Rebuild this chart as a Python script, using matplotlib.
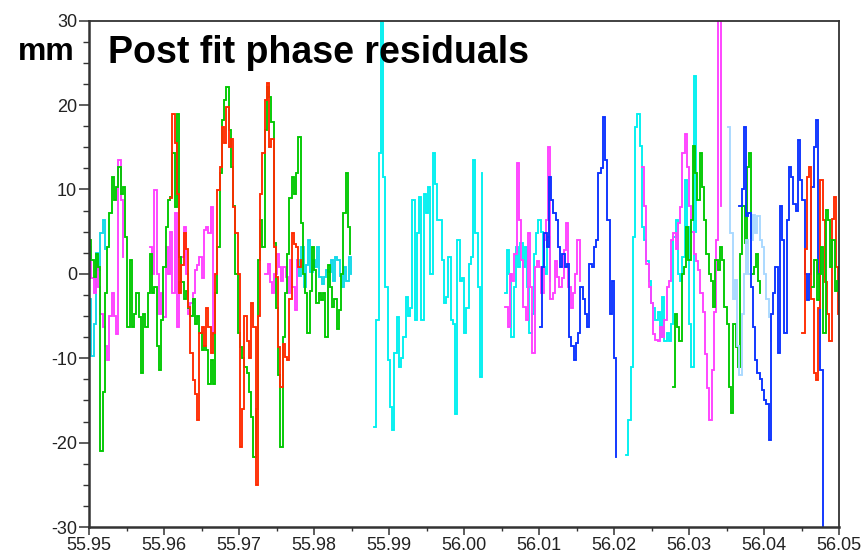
import numpy as np
import matplotlib
matplotlib.use("Agg")
import matplotlib.pyplot as plt
from matplotlib.ticker import MultipleLocator, FormatStrFormatter

plt.rcParams['font.family'] = ['Liberation Sans', 'DejaVu Sans']

# ---------------- data (time axis units, residuals in mm) ----------------
DT = 0.0003  # sampling interval

green1_t0 = 55.9500
green1 = [4, 1.6, -0.4, 2.4, 0.8, -21, -14, -2.3, 3.2, 7.2, 11.5, 8.7, 10.3, 12.7, 9.5, 10.3,
          4.4, -6.3, 1.6, -6.3, -4.7, -2.3, -5.1, -11.8, -4.7, -6.3, -2.3, 2.4, -2.3, -1.5,
          -8.6, -11.4, -5.5, 0.8, 5.6, 8.7, 9.1, 14.3, 7.9, 19, 2, -1, -3, -2, -4, -5, -3, -6,
          -5, -7, -9, -8.6, -9, -13, -10.2, -13, -2.3, 3.2, 12, 18.2, 20.6, 22.2, 17, 12.7, 8,
          0, -7, -8.7, -10, -11, -11.8, -14, -17, -21.7, -16, 1.6, 6.4, 3.2, 17, 22.2, 21, 18,
          3.6, -4, -12, -20.5, -7.5, -2.3, 2.4, 9, 11.5, 9.5, 12, 16.2, 6, 0, -2.3, -7, -2,
          3.2, 0.5, -3.5, -2.3, -3.1, -2.3, -7.5, 1, -1.5, -3.9, -3, -6.5, -4.3, 0, 7.2, 11.9,
          5.5, 2.4]

red1_t0 = 55.9608
red1 = [9, 19, 15.5, 9.5, -2.3, 1, 4.8, 3, -3.9, -9.4, -12.6, -14.2, -17.3, -7, -6.3, -8.6,
        -4, -6.3, -9.4, -7, 0, 9.9, 12.7, 17.4, 15.5, 19.8, 15, 16, 7.9, 4.8, 0, -20.5, -16,
        -5, -8, -10, -3.5, -6.3, -25, -5, 9.5, 14.3, 20.6, 22.6, 15, 16, 3.2, -0.4, -8.7,
        -13.4, -8.3, -9.8, -10.2, -3, 4.8, 3.5, 3.2, 0.8, 1.6]

mag1a_t0 = 55.9500
mag1a = [3.2, -0.5, -2.3, 1, -1.5, -4.7, -6.3, -8.6, -10.2, -5, -2.3, -5, -7.1, 13.5, 8.7, 2]

mag1b_t0 = 55.9581
mag1b = [3.2, 0, 9.9, 0, -4.7, -2.3, -5.1, 3.2, 0, 5, -2.3, 7.2, -6.3, -1, 2, 5.6, 0, -4.7,
         -3.5, -2.3, 0.5, 1, 2, -0.5, 5.2, 5.6, 4.8, 7.9, -7.1]

mag1c_t0 = 55.9735
mag1c = [0, 1.2, -1, -2.3, 0, 2.4, 0.8, -0.8, 0.8, -0.4, -2.3, 1.6, -1.5, -4.3, 1.6]

cyan1a_t0 = 55.9500
cyan1a = [-3, -9.7, -6, 2.5, 0.5, 4.8, 6.4, 3]

cyan1b_t0 = 55.9777
cyan1b = [1.6, -0.3, 3.2, -1.5, 1, 4, 0.2, 1.6, 0.8, 3.2, -0.4, -1.2, -0.4, 0.5, 0.2, 1.6,
          -0.8, 2, 1.6, -0.3, -1.5, 0.8, -0.8, 2, 0]

cyan2_t0 = 55.9880
cyan2 = [-18.1, -5.5, 14.3, 31, 11.5, -1.5, -10.2, -15.8, -18.5, -9.4, -5.1, -11, -10, -7.5,
         -2.7, -5, -4, 8.7, -5.5, 4.8, 9.1, -5.5, 9.5, 7.2, 10.3, 0, 14.3, 10.7, 6.4, 6.4, 1.6,
         -3.5, -2.7, 2, -5.5, -6, -16.6, 4, -0.8, -0.5, -7, -4, 1.2, 2, 13.5, 4.8, -1.5,
         -12.2, 11.9]

cyan3_t0 = 56.0054
cyan3 = [-2.3, 2.8, 0, -7.5, -1.5, 3.2, 0.8, 3.6, 0.8, 3.2, -1.5, -7, -4.7, 2.4, 4.8, 6.4, 5,
         0.8, 0, 4.4, -0.8]

mag2_t0 = 56.0055
mag2 = [-3.9, -6.3, 0, -0.8, 2.4, 13.1, 6.4, 1.6, -3.9, -5.5, 4.8, -1.5, -9.4, 0.8, 1.5, 0.8,
        -2.3, 4, 6.4, 15, -3, -2.3, 1.5, -0.4, -1.5, -0.5, 2.8, 6, -1.5, -4, -2.3, 0, 4, -0.8]

blue1_t0 = 56.0101
blue1 = [-6.3, 0.8, 4.8, 3.2, 11.5, 8.7, 7.2, 6.4, 3.2, 0.8, 2.4, 0.8, 1.2, -7.5, -8.6, -10.2,
         -8.2, -7, -1.5, -3, -4.7, -6.3, 1.2, 0.8, 3.2, 4, 11.9, 12.5, 18.6, 13.5, 6.4, -4.7,
         -0.8, -10, -21.7]

cyan4_t0 = 56.0216
cyan4 = [-21.5, -17.3, -11, 4.4, 17.4, 19, 15.1, 5.5, 4, 1.5, -0.8, -3.5, -4, -5.5, -4.5, -7.5,
         -2.7, -7.9, -7, -8, -6, 4.4, 6.4, 0, -0.8, 2, 11.1, 5.5, -6, -11, 23.4, 5]

mag3_t0 = 56.0237
mag3 = [12.7, 8, 1.2, -1.5, -3.5, -7.1, -7.8, -8, -6.3, -7.5, -5.5, -1.5, -0.8, 4, 4.8, 3, 6,
        7.9, 14.3, 16.6, 12.7, 8, 5, 2.4, 1.5, 0.5, -2.3, -4.5, -9.5, -13.5, -17.3, -11.4,
        -4.5, 4, 31, 8]

green2_t0 = 56.0278
green2 = [-13.4, -4.7, -6.3, -7.9, 0, 0.8, 5.5, 1.6, 6.4, 15.1, 11.9, 8.7, 14.3, 10.3, 6.4, 2.4,
          0, -0.8, -3.9, 1.6, 0.5, 3.2, 1.6, -3.9, -6, -13.4, -16.5, -6, -8.7, -11, 2.4, 8,
          3.6, 12.7, 14.3, 0, 0.8, 2.4, -0.8, -2.3]

lblue_t0 = 56.0352
lblue = [17.4, 4.8, -3, -0.7, -8.6, -12, -4.7, 0, 4, 0, 4, 7, 4.8, 6.8, 4, 3.2, 0, -3, -5.1, -7.9]

blue2_t0 = 56.0367
blue2 = [8, 10, 17.4, 6.8, 7.2, -1.5, -6.3, -10.2, -11.8, -12.5, -13.8, -15, -15.4, -19.7, -4.7,
         -2.3, 0.8, -9.4, 8, 4, -7, 6.4, 12.7, 11.5, 8.3, 7.5, 15.9, 11.1, 8.7, 0, -3.1, 0,
         10.3, 15, 18.2, 0, -11.4, -30.5]

red2_t0 = 56.0451
red2 = [-7, 3, 11.5, 12.7, -3, -11.8, -12.6, -4, 11.1, 6.4, -1, -4.7, -7.9, 6.5, 9.1, 0.8, -4.7]

green3_t0 = 56.0464
green3 = [-1.5, 1.6, -3.1, 0, 3.2, -7, 7.6, 6.4, 0.8, 4, -2, -0.8, -3.1]

RED = '#ff2a00'
GREEN = '#00c800'
MAGENTA = '#ff40ff'
CYAN = '#00f0f0'
CYAN_D = '#10d8e8'
BLUE = '#0a32ff'
LBLUE = '#a8d8ff'

series = [
    (cyan1a_t0, cyan1a, CYAN_D),
    (cyan1b_t0, cyan1b, CYAN_D),
    (mag1a_t0, mag1a, MAGENTA),
    (mag1b_t0, mag1b, MAGENTA),
    (mag1c_t0, mag1c, MAGENTA),
    (green1_t0, green1, GREEN),
    (red1_t0, red1, RED),
    (cyan2_t0, cyan2, CYAN),
    (cyan3_t0, cyan3, CYAN),
    (mag2_t0, mag2, MAGENTA),
    (blue1_t0, blue1, BLUE),
    (cyan4_t0, cyan4, CYAN),
    (mag3_t0, mag3, MAGENTA),
    (green2_t0, green2, GREEN),
    (lblue_t0, lblue, LBLUE),
    (blue2_t0, blue2, BLUE),
    (red2_t0, red2, RED),
    (green3_t0, green3, GREEN),
]

x_ticks = [55.95, 55.96, 55.97, 55.98, 55.99, 56.00, 56.01, 56.02, 56.03, 56.04, 56.05]
y_ticks = [-30, -20, -10, 0, 10, 20, 30]

# ---------------- figure ----------------
fig = plt.figure(figsize=(8.63, 5.52), dpi=100)
ax = fig.add_axes([89 / 863, 1 - 527 / 552, 750 / 863, 506.3 / 552])

for t0, vals, col in series:
    v = np.array(vals, dtype=float)
    t = t0 + DT * np.arange(len(v))
    ax.plot(t, v, color=col, lw=1.35, drawstyle='steps-post', solid_joinstyle='miter')

ax.set_xlim(55.95, 56.05)
ax.set_ylim(-30, 30)
ax.set_xticks(x_ticks)
ax.set_yticks(y_ticks)
ax.xaxis.set_minor_locator(MultipleLocator(0.005))
ax.yaxis.set_minor_locator(MultipleLocator(2.5))
ax.xaxis.set_major_formatter(FormatStrFormatter('%.2f'))
ax.yaxis.set_major_formatter(FormatStrFormatter('%d'))

for s in ax.spines.values():
    s.set_color('#333333')
    s.set_linewidth(1.3)
ax.spines['left'].set_linewidth(1.8)
ax.spines['bottom'].set_linewidth(1.8)

ax.tick_params(axis='y', which='major', direction='out', length=7, width=1.1,
               color='#333333', labelsize=13, labelcolor='#222222', pad=1.5)
ax.tick_params(axis='y', which='minor', direction='out', length=4, width=1.0, color='#333333')
ax.tick_params(axis='x', which='major', direction='out', length=6, width=1.1,
               color='#333333', labelsize=13, labelcolor='#222222', pad=1)
ax.tick_params(axis='x', which='minor', direction='out', length=3, width=1.0, color='#333333')

fig.text(18 / 863, 1 - 60 / 552, 'mm', fontsize=23, fontweight='bold', color='black',
         ha='left', va='baseline')
fig.text(108 / 863, 1 - 63 / 552, 'Post fit phase residuals', fontsize=27,
         fontweight='bold', color='black', ha='left', va='baseline')

fig.savefig('out.png', dpi=100)
